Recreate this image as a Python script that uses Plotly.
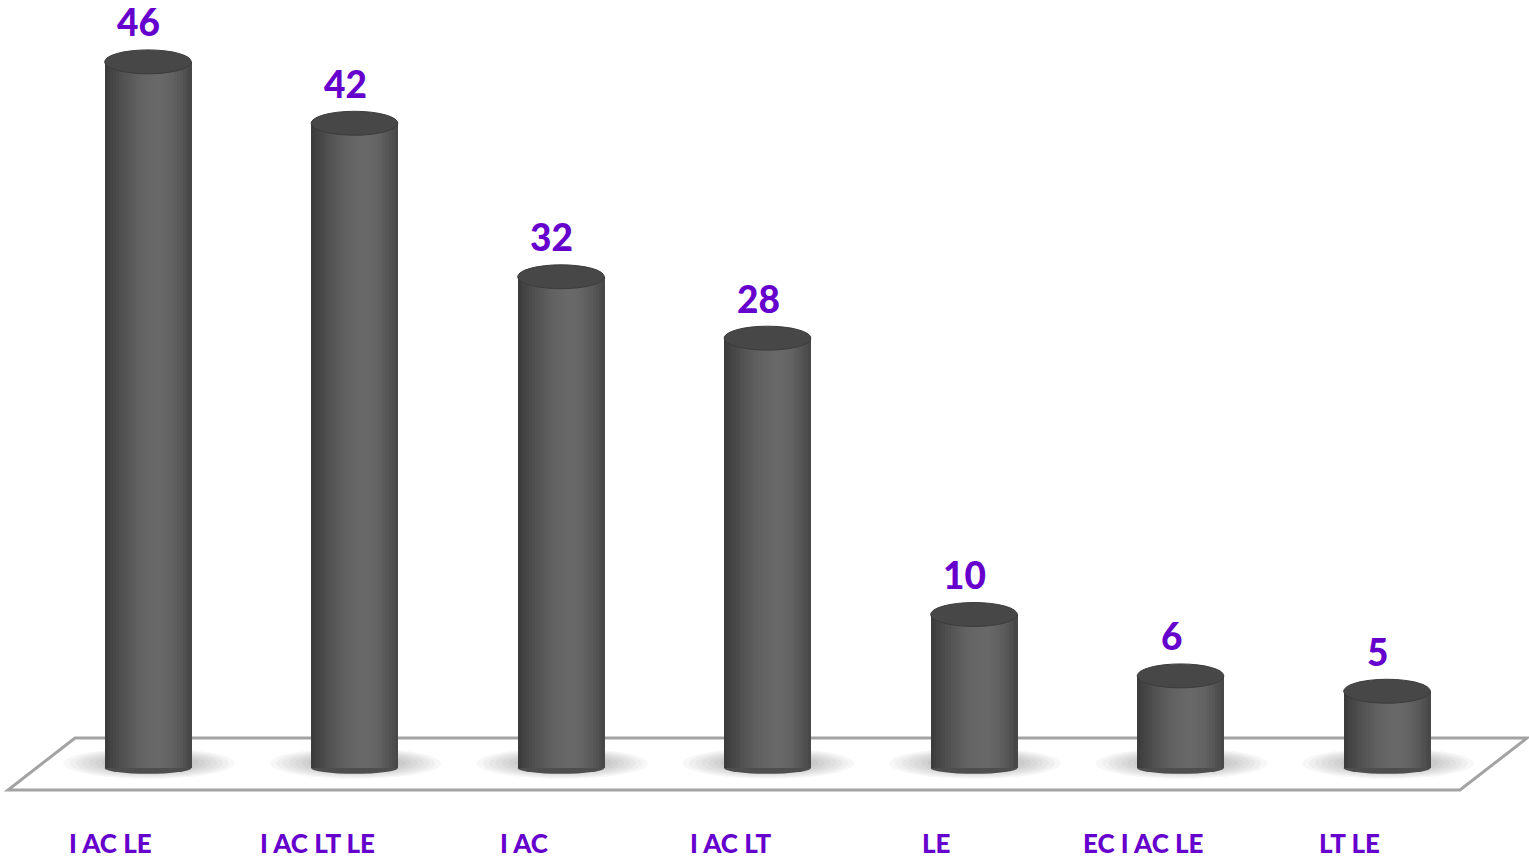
import math
import plotly.graph_objects as go

# Data
categories = ["I AC LE", "I AC LT LE", "I AC", "I AC LT", "LE", "EC I AC LE", "LT LE"]
values = [46, 42, 32, 28, 10, 6, 5]

PURPLE = "#6600cc"
BAR_W = 0.42          # cylinder width in category units
N_STRIPS = 30         # vertical strips used to shade the cylinder body
TOP_HALF_H = 0.78     # half height of the top ellipse (value units)
BOT_HALF_H = 0.38     # half height of the bottom ellipse (value units)

x_idx = list(range(len(categories)))


def shade(t):
    """Grey level across the cylinder: dark edges, highlight a bit right of centre."""
    peak = 0.62
    if t <= peak:
        g = 0x3a + (0x68 - 0x3a) * math.sin(0.5 * math.pi * t / peak)
    else:
        g = 0x46 + (0x68 - 0x46) * math.cos(0.5 * math.pi * (t - peak) / (1 - peak))
    g = int(round(g))
    return f"rgb({g},{g},{g})"


fig = go.Figure()

# Cylinder bodies, built from narrow overlaid bar strips
strip_w = BAR_W / N_STRIPS
for k in range(N_STRIPS):
    t = (k + 0.5) / N_STRIPS
    fig.add_trace(go.Bar(
        x=x_idx, y=values,
        width=strip_w * 1.08,
        offset=-BAR_W / 2 + k * strip_w,
        marker=dict(color=shade(t), line=dict(width=0)),
        showlegend=False, hoverinfo="skip",
    ))

shapes = []

# Floor (parallelogram in paper coordinates)
W, H = 1529, 858
floor_px = [(75, 738), (1527, 738), (1460, 790), (8, 790)]
path = "M " + " L ".join(f"{x / W:.5f},{1 - y / H:.5f}" for x, y in floor_px) + " Z"
shapes.append(dict(type="path", xref="paper", yref="paper", path=path,
                   fillcolor="white", line=dict(color="#a3a3a3", width=3), layer="below"))

# Soft shadows and bottom caps
N_SHADOW = 14
for i, v in zip(x_idx, values):
    for s in range(N_SHADOW):
        grow = 1 - s / N_SHADOW
        shapes.append(dict(type="circle", xref="x", yref="y",
                           x0=i + 0.02 - 0.43 * grow, x1=i + 0.02 + 0.40 * grow,
                           y0=0.35 - 1.05 * grow, y1=0.35 + 0.95 * grow,
                           fillcolor="rgba(70,70,70,0.045)", line=dict(width=0), layer="below"))
    shapes.append(dict(type="circle", xref="x", yref="y",
                       x0=i - BAR_W / 2, x1=i + BAR_W / 2,
                       y0=-BOT_HALF_H, y1=BOT_HALF_H,
                       fillcolor="#4e4e4e", line=dict(width=0), layer="below"))

# Top caps
for i, v in zip(x_idx, values):
    shapes.append(dict(type="circle", xref="x", yref="y",
                       x0=i - BAR_W / 2, x1=i + BAR_W / 2,
                       y0=v - TOP_HALF_H, y1=v + TOP_HALF_H,
                       fillcolor="#474747", line=dict(color="#3c3c3c", width=1), layer="above"))

annotations = []
# Value labels
for i, v in zip(x_idx, values):
    annotations.append(dict(x=i - 0.045, y=v + 2.6, xref="x", yref="y", text=str(v),
                            showarrow=False,
                            font=dict(family="Lato", size=37, color=PURPLE, weight=900),
                            xanchor="center", yanchor="middle"))
# Category labels
for i, c in zip(x_idx, categories):
    annotations.append(dict(x=i - 0.18, y=-4.9, xref="x", yref="y", text=c,
                            showarrow=False,
                            font=dict(family="Lato", size=26, color=PURPLE, weight=900),
                            xanchor="center", yanchor="middle"))

fig.update_layout(
    width=W, height=H,
    margin=dict(l=0, r=0, t=0, b=0),
    paper_bgcolor="white", plot_bgcolor="white",
    barmode="overlay", bargap=0,
    showlegend=False,
    shapes=shapes, annotations=annotations,
    xaxis=dict(range=[-0.7167, 6.6876], visible=False, fixedrange=True),
    yaxis=dict(range=[-5.863, 50.03], visible=False, fixedrange=True),
)

fig.write_html("out.html")
